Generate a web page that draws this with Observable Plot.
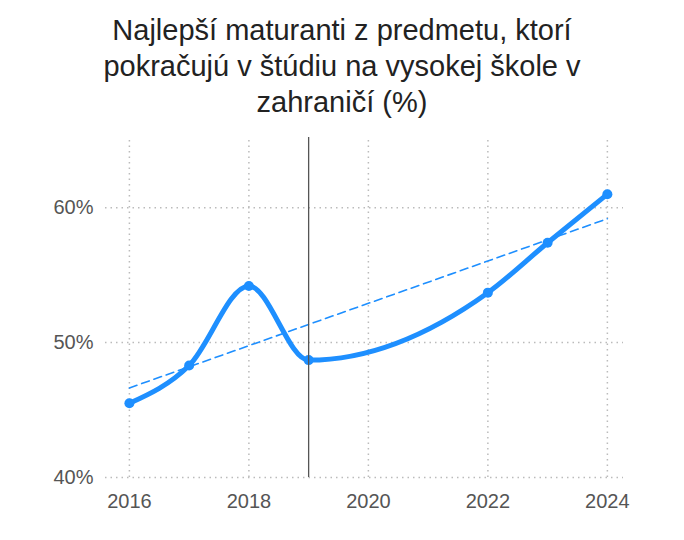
<!DOCTYPE html>
<html>
<head>
<meta charset="utf-8">
<script src="https://cdn.jsdelivr.net/npm/d3@7"></script>
<script src="https://cdn.jsdelivr.net/npm/@observablehq/plot@0.6"></script>
<style>
  body { margin: 0; background: #fff; font-family: "Liberation Sans", Arial, sans-serif; }
  #title { width: 684px; text-align: center; font-size: 29px; line-height: 36px; color: #222; padding-top: 12px; box-sizing: border-box; height: 121px; }
</style>
</head>
<body>
<div id="title">Najlepší maturanti z predmetu, ktorí<br>pokračujú v štúdiu na vysokej škole v<br>zahraničí (%)</div>
<div id="chart"></div>
<script>
const years = [2016, 2017, 2018, 2019, 2022, 2023, 2024];
const values = [45.5, 48.3, 54.2, 48.7, 53.7, 57.4, 61.0];
const xTicks = [2016, 2018, 2020, 2022, 2024];
const yTicks = [40, 50, 60];
const markerYear = [2019];

const data = years.map((y, i) => ({year: y, value: values[i]}));
const blue = "#1E8FFF";

const chart = Plot.plot({
  width: 684,
  height: 400,
  marginLeft: 105,
  marginRight: 61,
  marginTop: 16,
  marginBottom: 44,
  style: {fontFamily: "Liberation Sans, Arial, sans-serif", fontSize: "20px", color: "#666", background: "#fff"},
  x: {domain: [2015.6, 2024.27], ticks: xTicks, tickFormat: d => String(d), label: null},
  y: {domain: [40, 65.2], ticks: yTicks, tickFormat: d => d + "%", label: null},
  marks: [
    Plot.gridY(yTicks, {stroke: "#bbb", strokeOpacity: 1, strokeWidth: 1.5, strokeDasharray: "1.5,4"}),
    Plot.gridX(xTicks, {stroke: "#bbb", strokeOpacity: 1, strokeWidth: 1.5, strokeDasharray: "1.5,4", y1: 40, y2: 65.2}),
    Plot.axisX(xTicks, {tickSize: 0, tickPadding: 16, fontSize: 20, fill: "#555", tickFormat: d => String(d)}),
    Plot.axisY(yTicks, {tickSize: 0, tickPadding: 12, fontSize: 20, fill: "#555", tickFormat: d => d + "%"}),
    Plot.linearRegressionY(data, {x: "year", y: "value", stroke: blue, strokeWidth: 1.6, strokeDasharray: "8,5", ci: 0}),
    Plot.line(data, {x: "year", y: "value", stroke: blue, strokeWidth: 5, curve: "monotone-x"}),
    Plot.dot(data, {x: "year", y: "value", fill: blue, r: 5}),
    Plot.ruleX(markerYear, {y1: 40, y2: 65.2, stroke: "#555", strokeWidth: 1.3})
  ]
});
document.getElementById("chart").appendChild(chart);
</script>
</body>
</html>
